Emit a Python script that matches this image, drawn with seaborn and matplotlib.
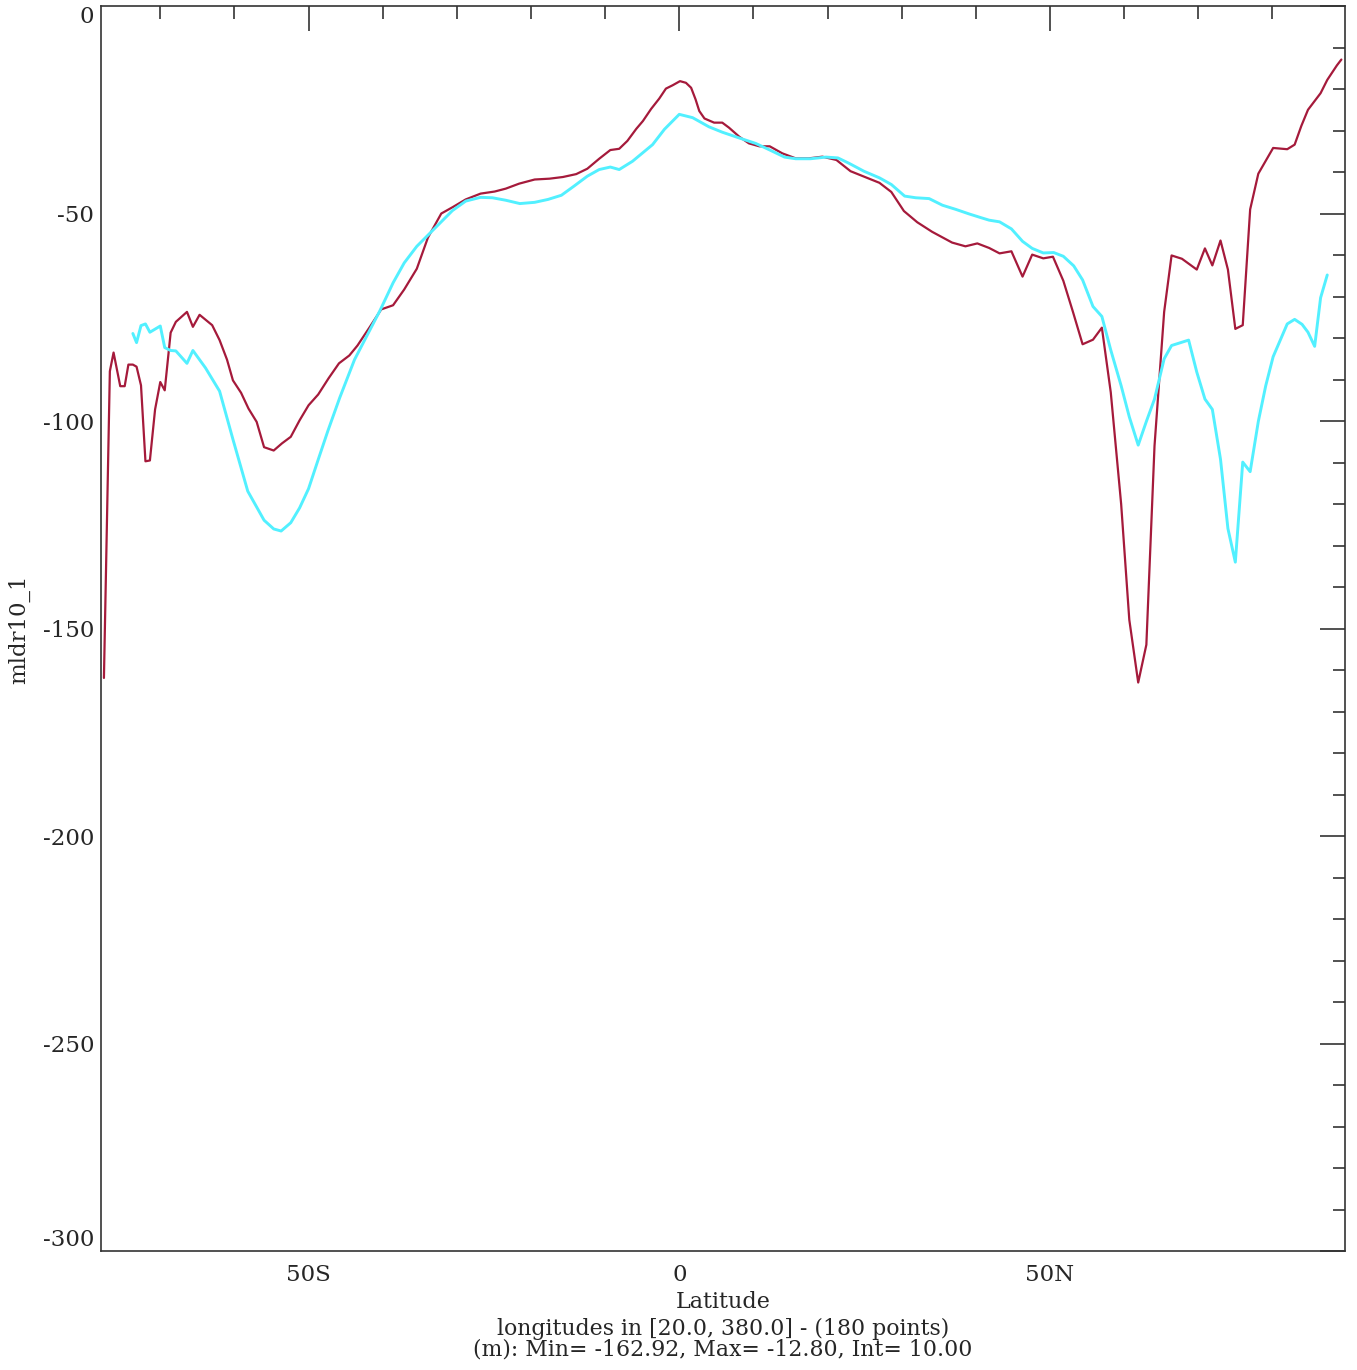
import pandas as pd
import matplotlib
matplotlib.use("Agg")
import matplotlib.pyplot as plt
import seaborn as sns
from matplotlib.ticker import MultipleLocator, FixedLocator, FixedFormatter

# Values
red_lat = [-77.6, -76.8, -76.3, -75.4, -74.8, -74.3, -73.7, -73.2, -72.6, -72.0,
           -71.4, -70.7, -70.0, -69.4, -68.6, -67.9, -66.4, -65.6, -64.7, -63.0,
           -62.0, -61.0, -60.2, -59.1, -58.1, -57.0, -56.0, -54.7, -53.6, -52.4,
           -51.2, -50.0, -48.7, -47.3, -45.9, -44.5, -43.4, -41.8, -40.2, -38.6,
           -37.1, -35.4, -33.9, -32.1, -30.6, -28.8, -26.8, -24.9, -23.4, -21.6,
           -19.5, -17.5, -15.7, -13.9, -12.4, -10.8, -9.3, -8.1, -7.0, -5.8,
           -4.9, -3.8, -2.7, -1.8, -0.9, 0.1, 0.9, 1.6, 2.2, 2.7,
           3.4, 4.7, 5.8, 6.7, 8.1, 9.4, 10.8, 12.2, 13.9, 15.7,
           17.5, 19.3, 21.2, 23.1, 24.9, 27.0, 28.6, 30.3, 32.1, 34.1,
           36.8, 38.6, 40.2, 41.8, 43.2, 44.8, 46.3, 47.6, 49.1, 50.4,
           51.8, 53.1, 54.4, 55.8, 57.0, 58.2, 59.6, 60.7, 61.9, 63.0,
           64.1, 65.4, 66.4, 67.8, 69.8, 70.9, 71.9, 73.0, 74.0, 75.0,
           76.0, 77.0, 78.1, 79.1, 80.1, 82.0, 83.0, 83.9, 84.8, 86.5,
           87.4, 88.7, 89.3]
red_val = [-161.8, -87.9, -83.4, -91.5, -91.5, -86.3, -86.3, -86.8, -91.3, -109.6,
           -109.4, -97.1, -90.5, -92.5, -78.6, -76.0, -73.6, -77.2, -74.3, -76.8,
           -80.4, -85.1, -90.1, -93.1, -96.9, -100.1, -106.2, -107.0, -105.3, -103.7,
           -99.7, -96.1, -93.5, -89.6, -86.0, -84.1, -81.7, -77.4, -73.0, -72.0,
           -68.2, -63.2, -55.7, -49.9, -48.4, -46.5, -45.1, -44.6, -43.9, -42.7,
           -41.7, -41.5, -41.1, -40.4, -39.1, -36.7, -34.6, -34.3, -32.4, -29.5,
           -27.6, -24.7, -22.2, -19.8, -19.0, -18.0, -18.4, -19.6, -22.4, -25.2,
           -27.0, -28.0, -28.0, -29.2, -31.4, -33.0, -33.7, -33.7, -35.4, -36.6,
           -36.6, -36.2, -37.0, -39.7, -41.0, -42.5, -44.7, -49.3, -52.0, -54.3,
           -56.9, -57.8, -57.1, -58.2, -59.5, -59.0, -65.1, -59.8, -60.7, -60.3,
           -66.1, -73.6, -81.4, -80.3, -77.4, -93.0, -119.9, -147.8, -162.9, -153.8,
           -105.9, -73.6, -60.0, -60.8, -63.4, -58.3, -62.4, -56.4, -63.4, -77.7,
           -76.8, -48.9, -40.3, -37.2, -34.1, -34.4, -33.3, -28.8, -24.9, -20.9,
           -17.7, -14.2, -12.8]

cyan_lat = [-73.7, -73.2, -72.6, -72.0, -71.4, -70.0, -69.4, -68.6, -67.9, -66.4,
            -65.6, -63.9, -62.0, -60.2, -58.2, -56.0, -54.7, -53.7, -52.4, -51.2,
            -50.0, -48.7, -47.4, -45.8, -43.8, -40.4, -38.6, -37.1, -35.4, -33.5,
            -30.6, -28.8, -26.8, -25.2, -23.4, -21.5, -19.5, -17.7, -15.9, -14.2,
            -12.4, -10.8, -9.3, -8.1, -6.3, -3.6, -2.0, 0.0, 1.8, 4.0,
            5.8, 8.1, 10.3, 12.1, 14.2, 15.7, 17.7, 19.8, 21.4, 22.9,
            24.9, 27.0, 28.6, 30.4, 31.9, 33.7, 35.5, 37.3, 39.1, 40.7,
            41.8, 43.2, 44.8, 46.3, 47.6, 49.1, 50.5, 51.8, 53.2, 54.4,
            55.8, 57.0, 58.2, 59.6, 60.7, 61.9, 63.0, 64.1, 65.4, 66.4,
            68.7, 69.8, 70.9, 71.9, 73.0, 74.0, 75.0, 76.0, 77.0, 78.1,
            79.1, 80.1, 82.0, 83.0, 84.0, 84.8, 85.7, 86.5, 87.4]
cyan_val = [-78.8, -81.0, -76.9, -76.5, -78.5, -77.0, -82.2, -82.9, -83.0, -86.0,
            -82.9, -87.1, -92.7, -104.3, -116.8, -123.8, -125.9, -126.4, -124.4, -120.8,
            -116.2, -109.2, -102.3, -94.3, -85.1, -73.4, -66.6, -61.8, -57.8, -54.4,
            -49.2, -46.9, -46.0, -46.1, -46.7, -47.5, -47.2, -46.5, -45.5, -43.3,
            -40.9, -39.3, -38.7, -39.3, -37.3, -33.3, -29.6, -26.0, -26.8, -29.0,
            -30.3, -31.7, -33.0, -34.5, -36.3, -36.7, -36.7, -36.3, -36.5, -37.8,
            -39.7, -41.3, -42.9, -45.7, -46.1, -46.3, -47.9, -48.9, -50.0, -50.9,
            -51.5, -51.9, -53.6, -56.6, -58.3, -59.4, -59.3, -60.2, -62.5, -65.9,
            -72.3, -74.7, -82.8, -91.4, -98.9, -105.7, -100.0, -94.6, -84.9, -81.7,
            -80.4, -88.1, -94.6, -97.1, -109.1, -125.8, -133.9, -109.8, -112.1, -100.0,
            -91.4, -84.4, -76.5, -75.4, -76.6, -78.5, -81.9, -70.2, -64.7]

x_major = [-50, 0, 50]
x_major_labels = ["50S", "0", "50N"]
y_major = [0, -50, -100, -150, -200, -250, -300]

sns.set_style("white")
plt.rcParams['font.family'] = ['DejaVu Serif']
plt.rcParams['axes.unicode_minus'] = False

fig = plt.figure(figsize=(13.57, 13.70), dpi=100)
ax = fig.add_axes([0.0744, 0.0865, 0.9168, 0.9088])

red_df = pd.DataFrame({"lat": red_lat, "val": red_val})
cyan_df = pd.DataFrame({"lat": cyan_lat, "val": cyan_val})
sns.lineplot(data=red_df, x="lat", y="val", ax=ax, color="#a51a3b", lw=1.6, sort=False)
sns.lineplot(data=cyan_df, x="lat", y="val", ax=ax, color="#52f0ff", lw=2.1, sort=False)

ax.set_xlim(-78.0, 89.8)
ax.set_ylim(-300, 0)

ax.xaxis.set_major_locator(FixedLocator(x_major))
ax.xaxis.set_major_formatter(FixedFormatter(x_major_labels))
ax.xaxis.set_minor_locator(MultipleLocator(10))
ax.set_yticks(y_major)
ax.set_yticklabels([str(v) for v in y_major])
ax.yaxis.set_minor_locator(MultipleLocator(10))

# IDL style: end labels pulled inside the axis range
ylabs = ax.get_yticklabels()
ylabs[0].set_va("top")
ylabs[-1].set_va("bottom")

ax.tick_params(which="both", direction="in", top=True, right=True,
               labelsize=16.5, color="#222222", width=1.1)
ax.tick_params(which="major", length=18)
ax.tick_params(which="minor", length=9)
ax.tick_params(axis="x", which="major", pad=9)
ax.tick_params(axis="y", which="major", pad=5)

for s in ax.spines.values():
    s.set_color("#333333")
    s.set_linewidth(1.2)

ax.set_xlabel("")
ax.set_ylabel("mldr10_1", fontsize=16.5)
ax.yaxis.set_label_coords(-0.057, 0.5)

fig.text(0.5328, 0.0496, "Latitude", ha="center", va="center", fontsize=16)
fig.text(0.5328, 0.0299, "longitudes in [20.0, 380.0] - (180 points)",
         ha="center", va="center", fontsize=15.8)
fig.text(0.5328, 0.0146, "(m): Min= -162.92, Max= -12.80, Int= 10.00",
         ha="center", va="center", fontsize=15.8)

fig.savefig("out.png", dpi=100)
